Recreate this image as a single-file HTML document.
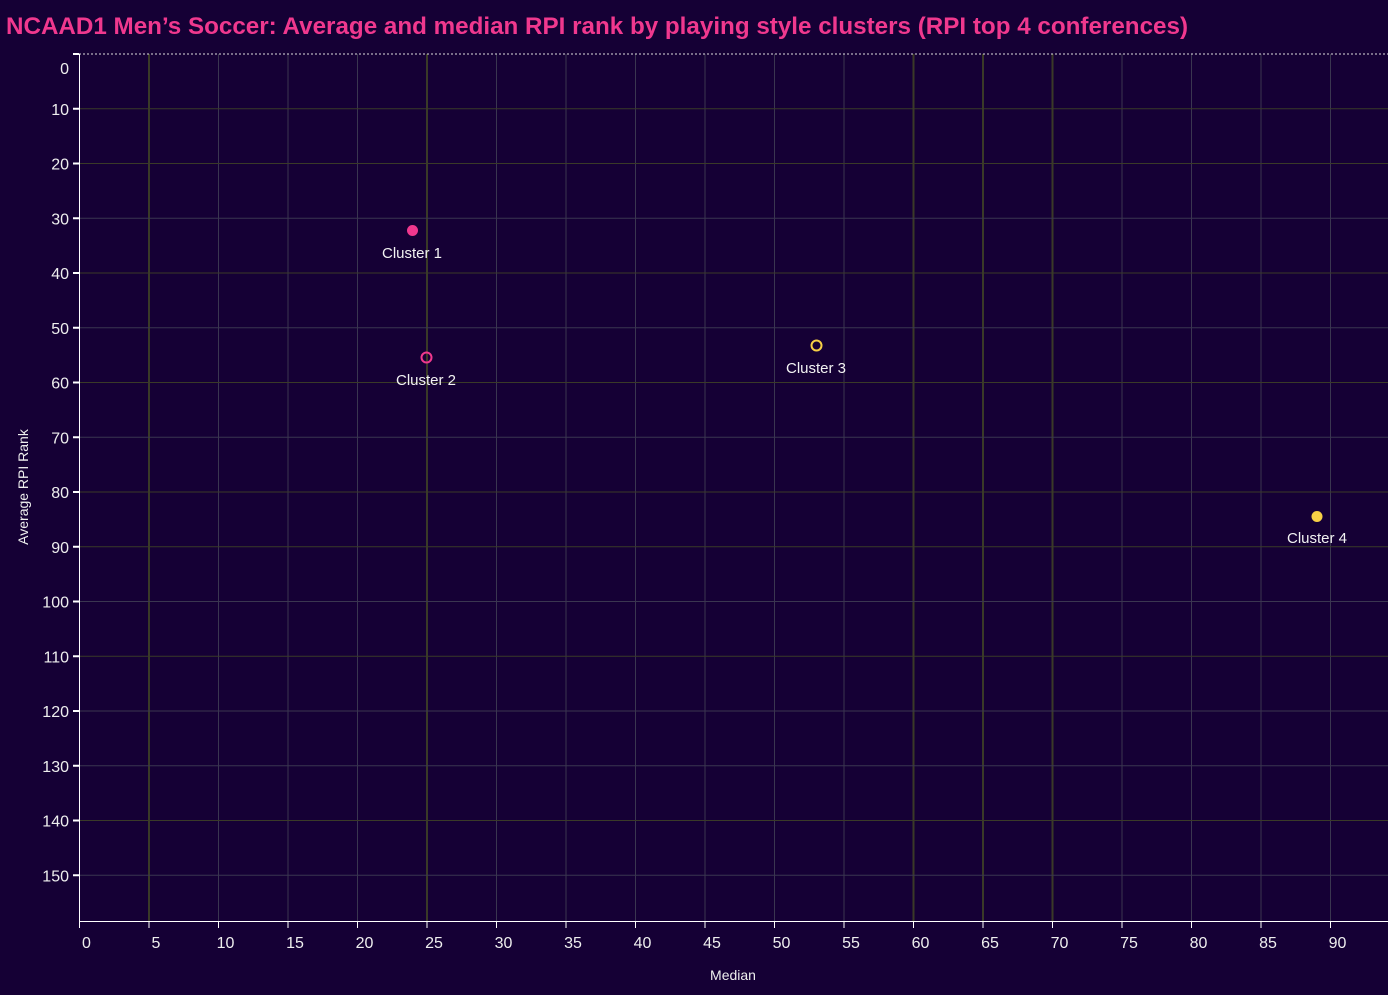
<!DOCTYPE html><html><head><meta charset="utf-8"><style>body{margin:0;background:#150035;}svg{display:block;font-family:"Liberation Sans",sans-serif}</style></head><body>
<svg width="1388" height="995" xmlns="http://www.w3.org/2000/svg">
<rect width="1388" height="995" fill="#150035"/>
<text x="6" y="34" fill="#f0388e" font-size="24" font-weight="bold" textLength="1182" lengthAdjust="spacingAndGlyphs">NCAAD1 Men’s Soccer: Average and median RPI rank by playing style clusters (RPI top 4 conferences)</text>
<g id="grid" stroke-width="1"></g>
<line x1="79" y1="54" x2="1388" y2="54" stroke="#ddd" stroke-dasharray="2,2"/>
<line x1="79.5" y1="54" x2="79.5" y2="921" stroke="#fff"/>
<line x1="79" y1="921.5" x2="1388" y2="921.5" stroke="#fff"/>
<g id="ticks" fill="#eee" font-size="16"></g>
<text x="733" y="980" fill="#eee" font-size="14" text-anchor="middle">Median</text>
<text transform="translate(28,487) rotate(-90)" fill="#eee" font-size="14" text-anchor="middle">Average RPI Rank</text>
<circle cx="412.5" cy="230.5" r="5.5" fill="#f0388e"/>
<circle cx="426.5" cy="357.5" r="5" fill="none" stroke="#f0388e" stroke-width="2"/>
<circle cx="816.5" cy="345.5" r="5" fill="none" stroke="#f7d046" stroke-width="2"/>
<circle cx="1317" cy="516.5" r="5.5" fill="#f7d046"/>
<g fill="#f2f2f2" font-size="15" text-anchor="middle">
<text x="412" y="258">Cluster 1</text>
<text x="426" y="385">Cluster 2</text>
<text x="816" y="373">Cluster 3</text>
<text x="1317" y="543">Cluster 4</text>
</g>
</svg>
<script>
const ns="http://www.w3.org/2000/svg",g=document.getElementById('grid'),t=document.getElementById('ticks');
function el(p,tag,a,txt){const e=document.createElementNS(ns,tag);for(const k in a)e.setAttribute(k,a[k]);if(txt!=null)e.textContent=txt;p.appendChild(e);}
const thickX=[5,25,60,65,70],thickY=[10,20,40,60,80,90,110,140];
for(let v=0;v<=90;v+=5){const x=79.5+v*13.9;
 if(v>0)el(g,'line',{x1:x,y1:54,x2:x,y2:921,stroke:thickX.includes(v)?'#3a3a28':'#3a3650','stroke-width':thickX.includes(v)?2:1});
 el(t,'line',{x1:x,y1:921,x2:x,y2:928,stroke:'#fff'});
 el(t,'text',{x:x+7,y:948,'text-anchor':'middle'},v);}
for(let v=10;v<=150;v+=10){const y=54+v*5.475;
 el(g,'line',{x1:79,y1:y,x2:1388,y2:y,stroke:thickY.includes(v)?'#3a3a28':'#3a3650','stroke-width':1});
 el(t,'line',{x1:73,y1:y,x2:79,y2:y,stroke:'#fff','stroke-width':2});
 el(t,'text',{x:69,y:y+6,'text-anchor':'end'},v);}
el(t,'text',{x:69,y:74,'text-anchor':'end'},0);
el(t,'line',{x1:73,y1:54,x2:79,y2:54,stroke:'#fff','stroke-width':2});
</script>
</body></html>
